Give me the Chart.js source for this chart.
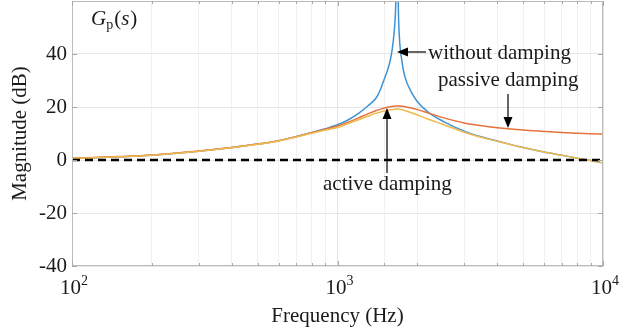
<!DOCTYPE html>
<html>
<head>
<meta charset="utf-8">
<script src="https://cdn.jsdelivr.net/npm/chart.js@4"></script>
<style>
  html, body { margin: 0; padding: 0; background: #fff; }
  #bode { display: block; }
</style>
</head>
<body>
<canvas id="bode" width="620" height="334"></canvas>
<script>
// frequency grid (Hz)
const freqHz = [100, 150, 200, 300, 400, 500, 600, 700, 800, 900,
  1000, 1100, 1200, 1300, 1400, 1450, 1500, 1550, 1600, 1650,
  1680, 1700, 1750, 1800, 1900, 2000, 2200, 2500, 3000, 3500,
  4000, 5000, 6000, 7000, 8000, 9000, 10000];

// magnitude in dB
const withoutDamping = [0.6, 1.2, 1.8, 3.3, 4.7, 6.0, 7.3, 8.9, 10.4, 11.8,
  13.3, 15.2, 17.6, 20.4, 23.5, 26.5, 30.5, 34.5, 40.5, 54,
  75, 52, 37, 31, 25.5, 22, 18, 14.6, 10.9, 8.7,
  7.2, 4.7, 3.0, 1.8, 0.7, -0.2, -1.1];
const passiveDamping = [0.7, 1.3, 1.9, 3.4, 4.7, 6.0, 7.3, 8.8, 10.3, 11.6,
  12.8, 14.3, 15.9, 17.4, 18.7, 19.2, 19.6, 20.0, 20.2, 20.4,
  20.4, 20.4, 20.3, 20.1, 19.6, 19.0, 17.7, 16.0, 14.0, 12.9,
  12.2, 11.3, 10.8, 10.4, 10.1, 9.9, 9.8];
const activeDamping = [0.6, 1.2, 1.8, 3.3, 4.6, 5.9, 7.2, 8.7, 10.1, 11.3,
  12.3, 13.8, 15.2, 16.5, 17.7, 18.1, 18.5, 18.8, 19.0, 19.2,
  19.2, 19.2, 19.0, 18.6, 17.8, 17.0, 15.4, 13.4, 10.5, 8.5,
  7.1, 4.7, 3.0, 1.8, 0.7, -0.2, -1.1];

const zeroFreq = [100, 10000];
const zeroLine = [0, 0];

const xTickExp = [2, 3, 4];            // labels 10^2, 10^3, 10^4
const yTicks = [-40, -20, 0, 20, 40];

const FONT = "'Liberation Serif', 'Times New Roman', serif";
const TXT = '#1a1a1a';

const toPts = (xs, ys) => xs.map((f, i) => ({ x: f, y: ys[i] }));

function arrow(c, x1, y1, x2, y2) {
  // line from (x1,y1) with a filled head at (x2,y2)
  const a = Math.atan2(y2 - y1, x2 - x1), L = 11, W = 4.5;
  c.beginPath();
  c.moveTo(x1, y1);
  c.lineTo(x2 - L * Math.cos(a), y2 - L * Math.sin(a));
  c.stroke();
  c.beginPath();
  c.moveTo(x2, y2);
  c.lineTo(x2 - L * Math.cos(a) + W * Math.sin(a), y2 - L * Math.sin(a) - W * Math.cos(a));
  c.lineTo(x2 - L * Math.cos(a) - W * Math.sin(a), y2 - L * Math.sin(a) + W * Math.cos(a));
  c.closePath();
  c.fill();
}

const decor = {
  id: 'decor',
  afterDatasetsDraw(chart) {
    const c = chart.ctx, a = chart.chartArea;
    const xs = chart.scales.x, ys = chart.scales.y;
    c.save();

    // frame
    c.strokeStyle = '#bcbcbc';
    c.lineWidth = 1;
    c.strokeRect(a.left + 0.5, a.top + 0.5, a.right - a.left - 1, a.bottom - a.top - 1);

    // inward tick marks
    c.strokeStyle = '#a8a8a8';
    c.beginPath();
    xs.ticks.forEach(t => {
      const px = Math.round(xs.getPixelForValue(t.value)) + 0.5;
      const major = Number.isInteger(Math.log10(t.value));
      const len = major ? 5 : 3;
      c.moveTo(px, a.bottom); c.lineTo(px, a.bottom - len);
      c.moveTo(px, a.top); c.lineTo(px, a.top + len);
    });
    yTicks.forEach(v => {
      const py = Math.round(ys.getPixelForValue(v)) + 0.5;
      c.moveTo(a.left, py); c.lineTo(a.left + 5, py);
      c.moveTo(a.right, py); c.lineTo(a.right - 5, py);
    });
    c.stroke();

    // x tick labels with superscript
    c.fillStyle = TXT;
    c.textBaseline = 'alphabetic';
    xTickExp.forEach(e => {
      const px = xs.getPixelForValue(Math.pow(10, e));
      c.font = '21px ' + FONT;
      const w1 = c.measureText('10').width;
      c.font = '14px ' + FONT;
      const w2 = c.measureText(String(e)).width;
      const x0 = px - (w1 + w2) / 2 + 2;
      c.font = '21px ' + FONT;
      c.textAlign = 'left';
      c.fillText('10', x0, 294);
      c.font = '14px ' + FONT;
      c.fillText(String(e), x0 + w1, 285);
    });

    // axis titles
    c.font = '21px ' + FONT;
    c.textAlign = 'center';
    c.fillText('Frequency (Hz)', (a.left + a.right) / 2, 322);
    c.save();
    c.translate(26, (a.top + a.bottom) / 2);
    c.rotate(-Math.PI / 2);
    c.fillText('Magnitude (dB)', 0, 0);
    c.restore();

    // G_p(s) label
    c.textAlign = 'left';
    let gx = 91;
    c.font = 'italic 21px ' + FONT;
    c.fillText('G', gx, 25); gx += c.measureText('G').width;
    c.font = '14px ' + FONT;
    c.fillText('p', gx, 29); gx += c.measureText('p').width + 1;
    c.font = '21px ' + FONT;
    c.fillText('(', gx, 25); gx += c.measureText('(').width;
    c.font = 'italic 21px ' + FONT;
    c.fillText('s', gx, 25); gx += c.measureText('s').width + 1;
    c.font = '21px ' + FONT;
    c.fillText(')', gx, 25);

    // annotations
    c.font = '21px ' + FONT;
    c.fillText('without damping', 428, 59);
    c.fillText('passive damping', 438, 86);
    c.fillText('active damping', 323, 190);

    c.strokeStyle = '#000';
    c.fillStyle = '#000';
    c.lineWidth = 1.2;
    arrow(c, 426, 52, 397, 52);
    arrow(c, 508, 94, 508, 128);
    arrow(c, 387, 173, 387, 108);

    c.restore();
  }
};

new Chart(document.getElementById('bode'), {
  type: 'line',
  data: {
    datasets: [
      {
        label: 'zero',
        data: toPts(zeroFreq, zeroLine),
        borderColor: '#000',
        borderWidth: 2.6,
        borderDash: [8, 5],
        pointRadius: 0,
        order: 0
      },
      {
        label: 'active damping',
        data: toPts(freqHz, activeDamping),
        borderColor: '#f0b94c',
        borderWidth: 1.5,
        pointRadius: 0,
        cubicInterpolationMode: 'monotone',
        order: 1
      },
      {
        label: 'passive damping',
        data: toPts(freqHz, passiveDamping),
        borderColor: '#e6723c',
        borderWidth: 1.5,
        pointRadius: 0,
        cubicInterpolationMode: 'monotone',
        order: 2
      },
      {
        label: 'without damping',
        data: toPts(freqHz, withoutDamping),
        borderColor: '#3f93d5',
        borderWidth: 1.5,
        pointRadius: 0,
        cubicInterpolationMode: 'monotone',
        order: 3
      }
    ]
  },
  options: {
    responsive: false,
    animation: false,
    layout: { padding: { left: 0, right: 17, top: 1, bottom: 0 } },
    plugins: {
      legend: { display: false },
      tooltip: { enabled: false }
    },
    scales: {
      x: {
        type: 'logarithmic',
        min: 100,
        max: 10000,
        border: { display: false },
        grid: {
          drawTicks: false,
          color: ctx => Number.isInteger(Math.log10(ctx.tick.value)) ? '#e2e2e2' : '#f1f1f1'
        },
        ticks: { display: false },
        afterFit: s => {
          s.height = 68;
          s.paddingLeft = 0; s.paddingRight = 0;
        }
      },
      y: {
        min: -40,
        max: 60,
        border: { display: false },
        grid: { drawTicks: false, color: '#e6e6e6' },
        ticks: {
          stepSize: 20,
          padding: 5,
          color: TXT,
          font: { family: FONT, size: 21 },
          callback: v => (v === 60 ? null : v)
        },
        afterFit: s => {
          s.width = 72;
          s.paddingTop = 0; s.paddingBottom = 0;
        }
      }
    }
  },
  plugins: [decor]
});
</script>
</body>
</html>
